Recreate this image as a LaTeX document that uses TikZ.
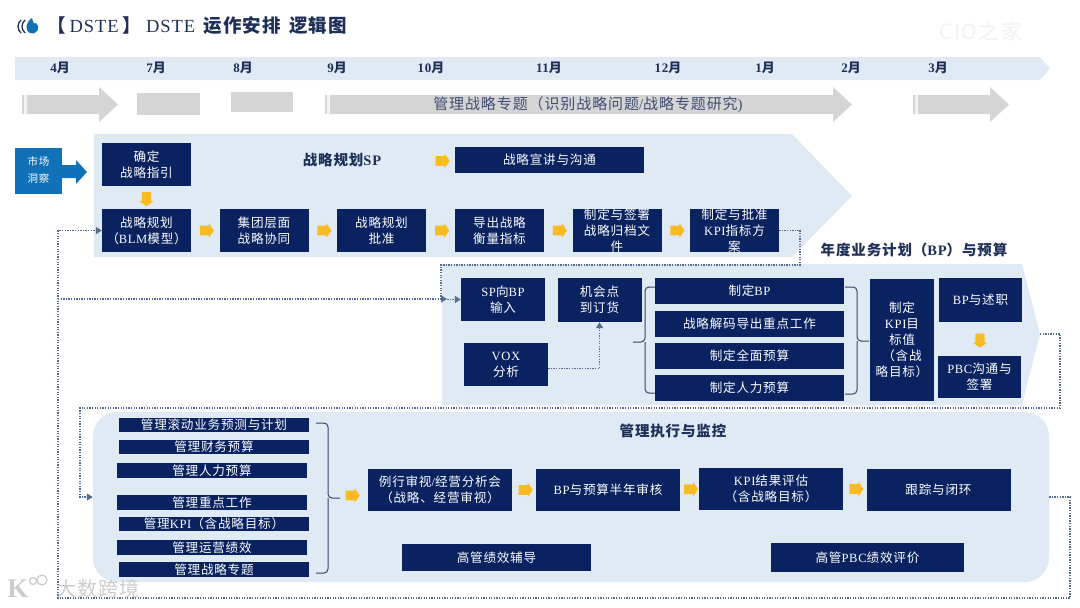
\documentclass[tikz,border=0pt]{standalone}
\usepackage{fontspec}
\setmainfont[LetterSpace=6]{Noto Sans CJK SC}
\newfontfamily\enfont[LetterSpace=5]{Liberation Serif}
\newcommand\en[1]{{\enfont #1}}
\usepackage{xcolor}
\definecolor{dstenavy}{HTML}{0A2260}
\definecolor{dstepale}{HTML}{DFEAF5}
\definecolor{dstegrey}{HTML}{D5D5D5}
\definecolor{dstegold}{HTML}{F8BC22}
\definecolor{dsteblue}{HTML}{1071B9}
\definecolor{dstedots}{HTML}{56698F}
\definecolor{dsteink}{HTML}{1E2F58}
\usetikzlibrary{shapes.arrows,arrows.meta,calc}
\tikzset{
  navybox/.style={fill=dstenavy, text=white!90!dstepale, inner sep=0pt, align=center,
    font=\fontsize{12.6}{16}\selectfont},
  planbox/.style={navybox, minimum width=89pt, minimum height=43pt},
  listbox/.style={navybox, minimum width=190pt, minimum height=14.5pt},
  budgetbox/.style={navybox, minimum width=189pt, minimum height=26pt},
  rowbox/.style={navybox, minimum width=144pt, minimum height=42pt},
  boxlabel/.style={text=white!90!dstepale, inner sep=0pt, align=center,
    font=\fontsize{12.6}{16}\selectfont},
  headline/.style={text=dsteink, inner sep=0pt, font=\fontsize{14.5}{18}\selectfont\bfseries},
  monthlabel/.style={text=dsteink, inner sep=0pt, font=\fontsize{13}{15}\selectfont\bfseries},
  goldarrow/.style={single arrow, fill=dstegold, inner sep=0pt, text width=9pt, text height=9.5pt,
    text depth=0pt, minimum height=14pt, single arrow head extend=2.5pt, single arrow tip angle=110},
  goldarrowdown/.style={goldarrow, shape border rotate=270},
  dotline/.style={dstedots, line width=1.3pt, dash pattern=on 1.3pt off 1.3pt},
  dotarrow/.style={dotline, -{Triangle[width=7pt,length=6pt,fill=dstedots]}},
  bracket/.style={draw=dsteink!90, line width=1pt, rounded corners=4pt},
}
\begin{document}
\begin{tikzpicture}[x=1pt, y=-1pt]
  \useasboundingbox (0,0) rectangle (1080,608);

  % title line
  \draw[dsteink, line width=1.3pt] (21,20) .. controls (17,24) and (17,29) .. (21,33);
  \draw[dsteink, line width=1.3pt] (25,20) .. controls (21,24) and (21,29) .. (25,33);
  \fill[dsteblue] (32,18) .. controls (26,22) and (24,30) .. (30,33)
    .. controls (37,35) and (41,28) .. (36,23) .. controls (34,25) and (33,22) .. (32,18);
  \node[anchor=west, inner sep=0pt, text=dsteink, font=\fontsize{18.5}{22}\selectfont\bfseries] (maintitle) at (47,26)
    {【\hspace{4pt}\en{\mdseries DSTE}\hspace{4pt}】\hspace{5pt}\en{\mdseries DSTE}\hspace{3pt} 运作安排\hspace{3pt} 逻辑图};
  \node[text=black!5, inner sep=0pt, font=\fontsize{21}{22}\selectfont] (cioname) at (981,31) {CIO之家};

  % month band
  \fill[dstepale] (15,57) -- (1040,57) -- (1050,68.5) -- (1040,80) -- (15,80) -- cycle;
  \node[monthlabel] (apr) at (60,68) {\en{4}月};
  \node[monthlabel] (jul) at (156,68) {\en{7}月};
  \node[monthlabel] (aug) at (243,68) {\en{8}月};
  \node[monthlabel] (sep) at (337,68) {\en{9}月};
  \node[monthlabel] (oct) at (431,68) {\en{10}月};
  \node[monthlabel] (nov) at (549,68) {\en{11}月};
  \node[monthlabel] (dec) at (668,68) {\en{12}月};
  \node[monthlabel] (jan) at (765,68) {\en{1}月};
  \node[monthlabel] (feb) at (851,68) {\en{2}月};
  \node[monthlabel] (mar) at (938,68) {\en{3}月};

  % grey time bars
  \fill[dstegrey] (22,95) -- (99,95) -- (99,87) -- (118,104.5) -- (99,122) -- (99,114) -- (22,114) -- cycle;
  \fill[dstegrey] (137,93) rectangle (200,115);
  \fill[dstegrey] (231,92) rectangle (293,112);
  \fill[dstegrey] (325,95) -- (833,95) -- (833,87) -- (852,104.5) -- (833,122) -- (833,114) -- (325,114) -- cycle;
  \fill[dstegrey] (913,95) -- (990,95) -- (990,87) -- (1009,104.5) -- (990,122) -- (990,114) -- (913,114) -- cycle;
  \fill[white!70!dstegrey] (24,95) rectangle (27,114);
  \fill[white!70!dstegrey] (327,95) rectangle (330,114);
  \fill[white!70!dstegrey] (915,95) rectangle (918,114);
  \node[text=dsteink!85, inner sep=0pt, font=\fontsize{15}{16}\selectfont] (topicbar) at (588,105)
    {管理战略专题（识别战略问题\en{/}战略专题研究\en{)}};

  % market sensing
  \fill[dsteblue] (15,148) rectangle (62,194);
  \fill[dsteblue] (62,165) -- (76,165) -- (76,160) -- (87,172) -- (76,184) -- (76,178) -- (62,178) -- cycle;
  \node[text=white!90!dstepale, inner sep=0pt, align=center, font=\fontsize{10.5}{17}\selectfont] (market) at (38.5,170)
    {市场\\洞察};

  % SP band
  \fill[dstepale] (94,134) -- (792,134) -- (852,196) -- (792,257) -- (94,257) -- cycle;
  \node[headline] (sptitle) at (342,160) {战略规划\en{SP}};
  \node[planbox] (guide) at (146.5,164.5) {确定\\战略指引};
  \node[navybox, minimum width=189pt, minimum height=26pt] (talk) at (549.5,160) {战略宣讲与沟通};
  \node[planbox] (blm) at (146.5,230.5) {战略规划\\（\en{BLM}模型）};
  \node[planbox] (synergy) at (264,230.5) {集团层面\\战略协同};
  \node[planbox] (approve) at (381.5,230.5) {战略规划\\批准};
  \node[planbox] (measure) at (499.5,230.5) {导出战略\\衡量指标};
  \node[planbox] (archive) at (617,230.5) {};
  \node[planbox] (kpiplan) at (734.5,230.5) {};
  \node[boxlabel] (archivetext) at (archive.center) {制定与签署\\战略归档文\\件};
  \node[boxlabel] (kpiplantext) at (kpiplan.center) {制定与批准\\\en{KPI}指标方\\案};
  \node[goldarrowdown] (arrowguide) at ($(guide.south)!.5!(blm.north)$) {};
  \node[goldarrow] (arrowtalk) at (441,161) {};
  \node[goldarrow] (arrowblm) at ($(blm.east)!.5!(synergy.west)$) {};
  \node[goldarrow] (arrowsynergy) at ($(synergy.east)!.5!(approve.west)$) {};
  \node[goldarrow] (arrowapprove) at ($(approve.east)!.5!(measure.west)$) {};
  \node[goldarrow] (arrowmeasure) at ($(measure.east)!.5!(archive.west)$) {};
  \node[goldarrow] (arrowarchive) at ($(archive.east)!.5!(kpiplan.west)$) {};

  % BP band
  \node[headline] (bptitle) at (914,250) {年度业务计划（\en{BP}）与预算};
  \fill[dstepale] (442,264) -- (1022,264) -- (1040,334) -- (1022,405) -- (442,405) -- cycle;
  \coordinate (bptip) at (1040,334);
  \node[navybox, minimum width=84pt, minimum height=43pt] (spinput) at (503,299.5) {\en{SP}向\en{BP}\\输入};
  \node[navybox, minimum width=84pt, minimum height=44pt] (order) at (599.5,300) {机会点\\到订货};
  \node[navybox, minimum width=84pt, minimum height=43pt] (vox) at (506,364.5) {\en{VOX}\\分析};
  \node[budgetbox] (makebp) at (749.5,291) {制定\en{BP}};
  \node[budgetbox] (decode) at (749.5,324) {战略解码导出重点工作};
  \node[budgetbox] (budget) at (749.5,356) {制定全面预算};
  \node[budgetbox] (hrbudget) at (749.5,388) {制定人力预算};
  \node[navybox, minimum width=64pt, minimum height=122pt] (kpitarget) at (902,340)
    {制定\\\en{KPI}目\\标值\\（含战\\略目标）};
  \node[navybox, minimum width=83pt, minimum height=44pt] (report) at (980.5,300) {\en{BP}与述职};
  \node[navybox, minimum width=83pt, minimum height=42pt] (pbcsign) at (979.5,377) {\en{PBC}沟通与\\签署};
  \node[goldarrowdown] (arrowreport) at ($(report.south)!.5!(pbcsign.north)$) {};
  \draw[bracket] (655,287) -| (645,342) -- (633,342);
  \draw[bracket] (655,393) -| (645,342);
  \draw[bracket] (845,287) -| (857,341) -- (869,341);
  \draw[bracket] (845,394) -| (857,341);

  % execution panel
  \node[fill=dstepale, rounded corners=24pt, inner sep=0pt, minimum width=956pt, minimum height=170pt] (execbg) at (571,497) {};
  \node[headline] (exectitle) at (673,431) {管理执行与监控};
  \node[listbox] (rolling) at (214,425) {管理滚动业务预测与计划};
  \node[listbox] (finance) at (214,447) {管理财务预算};
  \node[listbox] (staff) at (212,470.5) {管理人力预算};
  \node[listbox] (keywork) at (212,502.5) {管理重点工作};
  \node[listbox] (kpiwork) at (214,524) {管理\en{KPI}（含战略目标）};
  \node[listbox] (operate) at (212,547.5) {管理运营绩效};
  \node[listbox] (topics) at (214,569.5) {管理战略专题};
  \draw[bracket] (316,423) -| (328,498) -- (340,498);
  \draw[bracket] (316,573) -| (328,498);
  \node[goldarrow] (arrowlist) at (351,495.5) {};
  \node[rowbox] (review) at (440,490) {例行审视\en{/}经营分析会\\（战略、经营审视）};
  \node[rowbox] (halfyear) at (608,490) {\en{BP}与预算半年审核};
  \node[rowbox] (kpiresult) at (771,488.5) {\en{KPI}结果评估\\（含战略目标）};
  \node[rowbox] (closeloop) at (938.5,489.5) {跟踪与闭环};
  \node[goldarrow] (arrowreview) at ($(review.east)!.5!(halfyear.west)$) {};
  \node[goldarrow] (arrowhalfyear) at ($(halfyear.east)!.5!(kpiresult.west)$) {};
  \node[goldarrow] (arrowkpiresult) at ($(kpiresult.east)!.5!(closeloop.west)$) {};
  \node[navybox, minimum width=189pt, minimum height=27pt] (coach) at (496.5,557.5) {高管绩效辅导};
  \node[navybox, minimum width=193pt, minimum height=29pt] (pbceval) at (867.5,557.5) {高管\en{PBC}绩效评价};

  % dotted feedback lines
  \coordinate (branch) at (58,299);
  \coordinate (spjoin) at (447,299);
  \draw[dotarrow] (vox.east) ++(0,4) -| (order.south);
  \draw[dotarrow] (kpiplan.east) -| (800,265) -- (441,265) |- (spinput.west);
  \draw[dotarrow] (branch) -- (spjoin);
  \draw[dotarrow] (bptip) -| (1060,408) -- (80,408) |- (execbg.west);
  \draw[dotarrow] (execbg.east) -| (1070,598) -- (58,598) |- (blm.west);

  % corner mark
  \node[text=black!20, inner sep=0pt, font=\fontsize{20}{22}\selectfont] (bigdata) at (98,589) {大数跨境};
  \node[text=black!20, inner sep=0pt, font=\fontsize{27}{28}\selectfont\bfseries] (bigdatamark) at (18,589) {\en{K}};
  \draw[black!20, line width=1.3pt] (33,581) circle (3.5) (42,580) circle (5);
\end{tikzpicture}
\end{document}
